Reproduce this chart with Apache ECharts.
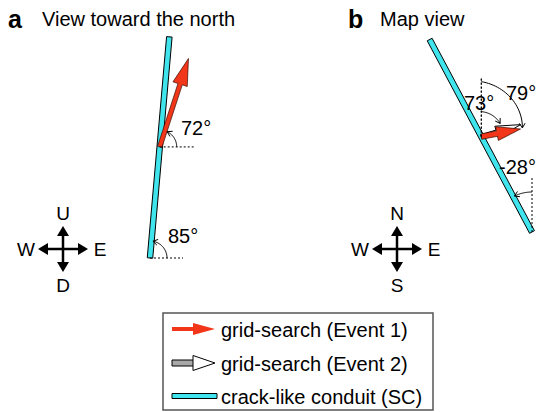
<!DOCTYPE html>
<html><head><meta charset="utf-8">
<script src="https://cdn.jsdelivr.net/npm/echarts@6/dist/echarts.min.js"></script>
<style>html,body{margin:0;padding:0;background:#fff}#c{width:537px;height:412px}</style>
</head><body><div id="c"></div>
<script>
// ---------------- data ----------------
const panelLetters = ['a', 'b'];
const panelTitles = ['View toward the north', 'Map view'];
// panel a: angles measured from horizontal; panel b: azimuths measured from north
const conduitAngles = [85, -28];     // crack-like conduit (SC)
const event1Angles = [72, 79];       // grid-search (Event 1)
const event2Angles = [null, 73];     // grid-search (Event 2)
const compassLabelsA = ['U', 'D', 'W', 'E'];
const compassLabelsB = ['N', 'S', 'W', 'E'];
const legendLabels = ['grid-search (Event 1)', 'grid-search (Event 2)', 'crack-like conduit (SC)'];

// ---------------- layout & style ----------------
const FONT = '"Liberation Sans", Arial, Helvetica, sans-serif';
const CYAN = '#3fe4ec', RED = '#f2361a';
const P = [
  { mode: 'dip', base: [150, 258], len: 222, along: 111.5,
    e1: { len: 93, shaft: 4.5, head: [27, 15] }, e2: null,
    arcs: [ { r: [17, 17], gap: 5, dot: 33, label: [168, 236] },
            { r: [17, 17], gap: 8, dot: 36, label: [181, 128] }, null ] },
  { mode: 'az', base: [532, 232], len: 218, along: 108,
    e1: { len: 40, shaft: 5.5, head: [24, 14] }, e2: { len: 41, shaft: 4, head: [25, 12] },
    arcs: [ { r: [40, 40], gap: 2, dot: 54, label: [499, 167] },
            { r: [55, 42], gap: 1, dot: 60, label: [506, 93] },
            { r: [25, 23], gap: 18, dot: 60, label: [464, 103] } ] }
];

const rad = a => a * Math.PI / 180;
const dir = th => [Math.cos(rad(th)), -Math.sin(rad(th))];
const thetaOf = (pi, v) => P[pi].mode === 'dip' ? v : 90 - v;
const refTheta = pi => P[pi].mode === 'dip' ? 0 : 90;
const add = (p, d, k) => [p[0] + d[0] * k, p[1] + d[1] * k];
function originOf(pi) {
  return add(P[pi].base, dir(thetaOf(pi, conduitAngles[pi])), P[pi].along);
}
function arrowPoly(p0, p1, sw, hl, hw) {
  const dx = p1[0] - p0[0], dy = p1[1] - p0[1], L = Math.hypot(dx, dy);
  const u = [dx / L, dy / L], n = [-u[1], u[0]];
  const b = add(p1, u, -hl);
  return [add(p0, n, sw / 2), add(b, n, sw / 2), add(b, n, hw / 2), p1,
          add(b, n, -hw / 2), add(b, n, -sw / 2), add(p0, n, -sw / 2)];
}
function rectPoly(p0, p1, w) {
  const dx = p1[0] - p0[0], dy = p1[1] - p0[1], L = Math.hypot(dx, dy);
  const n = [-dy / L, dx / L];
  return [add(p0, n, w / 2), add(p1, n, w / 2), add(p1, n, -w / 2), add(p0, n, -w / 2)];
}
const txtStyle = (text, size, extra) => Object.assign({
  text, font: size + 'px ' + FONT, fill: '#000',
  align: 'left', verticalAlign: 'middle', textAlign: 'left', textVerticalAlign: 'middle'
}, extra || {});

// ---------------- series render functions ----------------
function renderConduit(params, api) {
  const pi = api.value(0), v = api.value(1), p = P[pi];
  const top = add(p.base, dir(thetaOf(pi, v)), p.len);
  return { type: 'polygon', shape: { points: rectPoly(p.base, top, 5.5).map(q => api.coord(q)) },
           style: { fill: CYAN, stroke: '#000', lineWidth: 1 } };
}
function makeArrowRenderer(key, fill, stroke, lw) {
  return function (params, api) {
    const pi = api.value(0), v = api.value(1), cfg = P[pi][key];
    const o = originOf(pi);
    const tip = add(o, dir(thetaOf(pi, v)), cfg.len);
    return { type: 'polygon',
             shape: { points: arrowPoly(o, tip, cfg.shaft, cfg.head[0], cfg.head[1]).map(q => api.coord(q)) },
             style: { fill, stroke, lineWidth: lw, lineJoin: 'miter' } };
  };
}
function renderAngle(params, api) {
  const pi = api.value(0), v = api.value(1), kind = api.value(2);
  const cfg = P[pi].arcs[kind];
  const c = kind === 0 ? P[pi].base : originOf(pi);
  const t0 = refTheta(pi), th = thetaOf(pi, v);
  const s = Math.sign(th - t0), t1 = th - s * cfg.gap;
  const pts = [];
  const N = 30;
  for (let k = 0; k <= N; k++) {
    const f = k / N, t = t0 + (t1 - t0) * f, r = cfg.r[0] + (cfg.r[1] - cfg.r[0]) * f;
    pts.push(add(c, dir(t), r));
  }
  const E = pts[N], Pm = pts[N - 2];
  const tl = Math.hypot(E[0] - Pm[0], E[1] - Pm[1]);
  const T = [(E[0] - Pm[0]) / tl, (E[1] - Pm[1]) / tl];
  const rot = (vv, a) => [vv[0] * Math.cos(a) - vv[1] * Math.sin(a), vv[0] * Math.sin(a) + vv[1] * Math.cos(a)];
  const hA = add(E, rot(T, rad(32)), -5.5), hB = add(E, rot(T, rad(-32)), -5.5);
  const dotEnd = add(c, dir(t0), cfg.dot);
  const pc = q => api.coord(q);
  const lab = pc(cfg.label);
  return { type: 'group', children: [
    { type: 'line', shape: { x1: pc(c)[0], y1: pc(c)[1], x2: pc(dotEnd)[0], y2: pc(dotEnd)[1] },
      style: { stroke: '#000', lineWidth: 1, lineDash: [2, 2] } },
    { type: 'polyline', shape: { points: pts.map(pc) }, style: { stroke: '#000', lineWidth: 1, fill: null } },
    { type: 'polyline', shape: { points: [hA, E, hB].map(pc) }, style: { stroke: '#000', lineWidth: 1, fill: null } },
    { type: 'text', x: lab[0], y: lab[1], style: txtStyle(v + '°', 20) }
  ] };
}

// ---------------- graphic (titles, compasses, legend) ----------------
function compass(cx, cy, labels) {
  const hx = 25, vy = 23, hl = 10, hw = 12, lw = 2.5;
  const els = [
    { type: 'line', shape: { x1: cx - hx + 4, y1: cy, x2: cx + hx - 4, y2: cy }, style: { stroke: '#000', lineWidth: lw } },
    { type: 'line', shape: { x1: cx, y1: cy - vy + 4, x2: cx, y2: cy + vy - 4 }, style: { stroke: '#000', lineWidth: lw } },
    { type: 'polygon', shape: { points: [[cx, cy - vy], [cx - hw / 2, cy - vy + hl], [cx + hw / 2, cy - vy + hl]] }, style: { fill: '#000' } },
    { type: 'polygon', shape: { points: [[cx, cy + vy], [cx - hw / 2, cy + vy - hl], [cx + hw / 2, cy + vy - hl]] }, style: { fill: '#000' } },
    { type: 'polygon', shape: { points: [[cx - hx, cy], [cx - hx + hl, cy - hw / 2], [cx - hx + hl, cy + hw / 2]] }, style: { fill: '#000' } },
    { type: 'polygon', shape: { points: [[cx + hx, cy], [cx + hx - hl, cy - hw / 2], [cx + hx - hl, cy + hw / 2]] }, style: { fill: '#000' } }
  ];
  const pos = [[cx, cy - 36], [cx, cy + 36], [cx - 37, cy], [cx + 37, cy]];
  labels.forEach((t, i) => els.push({ type: 'text', x: pos[i][0], y: pos[i][1],
    style: txtStyle(t, 19, { align: 'center', textAlign: 'center' }) }));
  return els;
}
const graphics = [];
const titlePos = [[8, 19, 42], [348, 19, 380]];
panelLetters.forEach((l, i) => {
  graphics.push({ type: 'text', x: titlePos[i][0], y: titlePos[i][1], style: txtStyle(l, 25, { font: 'bold 25px ' + FONT }) });
  graphics.push({ type: 'text', x: titlePos[i][2], y: 18.5, style: txtStyle(panelTitles[i], 20) });
});
graphics.push(...compass(63, 249, compassLabelsA));
graphics.push(...compass(397, 249, compassLabelsB));
// legend
graphics.push({ type: 'rect', shape: { x: 163, y: 313, width: 270, height: 97 }, style: { fill: 'none', stroke: '#555', lineWidth: 1.5 } });
const rowY = [329, 363, 396];
graphics.push({ type: 'polygon', shape: { points: arrowPoly([172, rowY[0]], [215, rowY[0]], 4, 22, 12) }, style: { fill: RED } });
graphics.push({ type: 'rect', shape: { x: 172, y: rowY[1] - 3, width: 22, height: 6 }, style: { fill: '#a8a8a8', stroke: '#000', lineWidth: 1 } });
graphics.push({ type: 'polygon', shape: { points: [[193, rowY[1] - 7.5], [215, rowY[1]], [193, rowY[1] + 7.5]] }, style: { fill: '#fff', stroke: '#000', lineWidth: 1 } });
graphics.push({ type: 'rect', shape: { x: 172, y: rowY[2] - 2.5, width: 45, height: 5 }, style: { fill: CYAN, stroke: '#000', lineWidth: 1 } });
legendLabels.forEach((t, i) => graphics.push({ type: 'text', x: 221, y: rowY[i] + 1, style: txtStyle(t, 20) }));

// ---------------- chart ----------------
const angleData = [];
conduitAngles.forEach((v, i) => angleData.push([i, v, 0]));
event1Angles.forEach((v, i) => { if (v != null) angleData.push([i, v, 1]); });
event2Angles.forEach((v, i) => { if (v != null) angleData.push([i, v, 2]); });

const chart = echarts.init(document.getElementById('c'), null, { renderer: 'svg', width: 537, height: 412 });
chart.setOption({
  animation: false,
  backgroundColor: '#fff',
  grid: { left: 0, right: 0, top: 0, bottom: 0 },
  xAxis: { type: 'value', min: 0, max: 537, show: false },
  yAxis: { type: 'value', min: 0, max: 412, inverse: true, show: false },
  series: [
    { type: 'custom', name: legendLabels[2], silent: true, renderItem: renderConduit,
      data: conduitAngles.map((v, i) => [i, v]) },
    { type: 'custom', name: legendLabels[1], silent: true, renderItem: makeArrowRenderer('e2', '#fff', '#000', 1),
      data: event2Angles.map((v, i) => [i, v]).filter(d => d[1] != null) },
    { type: 'custom', name: legendLabels[0], silent: true, renderItem: makeArrowRenderer('e1', RED, '#3a0a00', 0.7),
      data: event1Angles.map((v, i) => [i, v]).filter(d => d[1] != null) },
    { type: 'custom', name: 'angles', silent: true, renderItem: renderAngle, data: angleData }
  ],
  graphic: { elements: graphics }
});
</script></body></html>
